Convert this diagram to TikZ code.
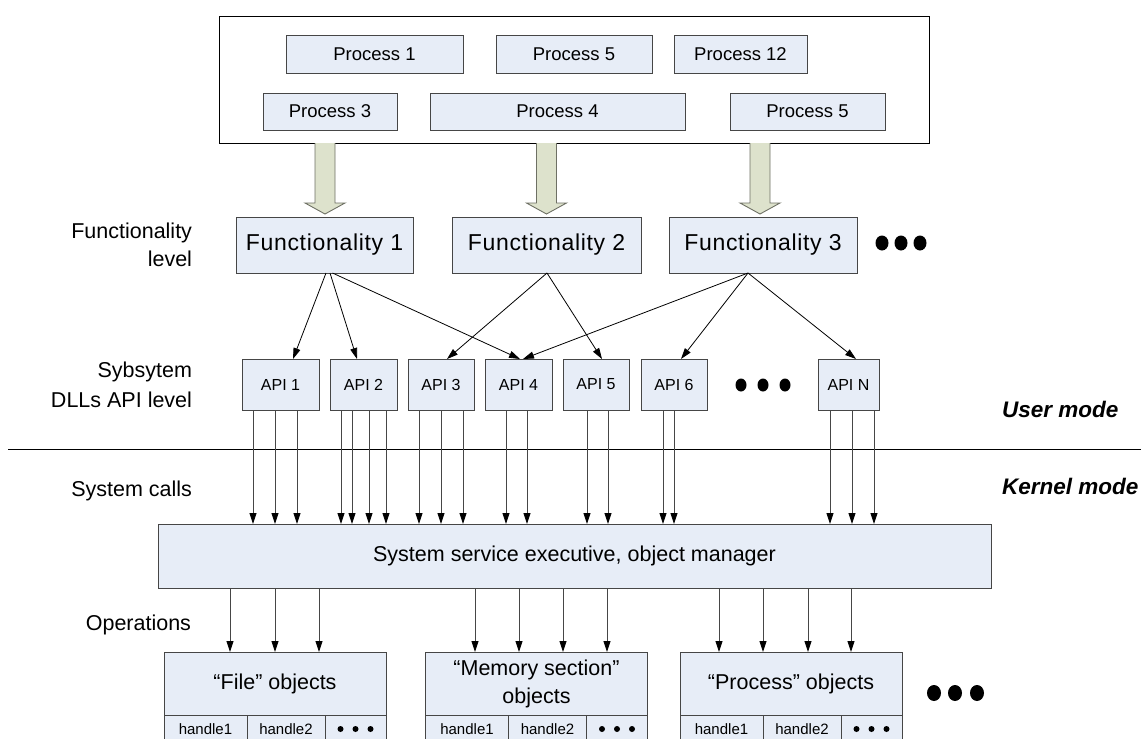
\documentclass[tikz,border=0pt]{standalone}
\usepackage{fontspec}
\setmainfont{Liberation Sans}
\usetikzlibrary{arrows.meta,calc}

\definecolor{boxfill}{RGB}{231,237,247}
\definecolor{boxline}{RGB}{70,70,70}
\definecolor{fatfill}{RGB}{221,226,204}
\definecolor{fatline}{RGB}{110,112,100}
\definecolor{wireline}{RGB}{70,70,70}

\tikzset{
  every node/.style={inner sep=0pt, outer sep=0pt},
  blk/.style={draw=boxline, fill=boxfill, line width=0.9pt, rectangle},
  procbox/.style={blk, minimum height=38pt, font=\fontsize{18.5}{22}\selectfont},
  funcbox/.style={blk, minimum height=56pt, font=\fontsize{23}{27}\selectfont\addfontfeature{LetterSpace=3}},
  apibox/.style={blk, minimum height=51pt, font=\fontsize{16}{19}\selectfont},
  sysbox/.style={blk, font=\fontsize{21.5}{26}\selectfont},
  objbox/.style={blk, minimum width=222pt, minimum height=63pt, align=center, font=\fontsize{21.5}{28}\selectfont},
  hcell/.style={blk, minimum height=28pt, anchor=north west, font=\fontsize{15}{18}\selectfont},
  lbl/.style={anchor=base east, font=\fontsize{21.5}{26}\selectfont},
  modelbl/.style={anchor=base west, font=\fontsize{22.5}{26}\selectfont\bfseries\itshape},
  tip/.style={-{Triangle[length=11pt,width=7pt,color=black]}},
  link/.style={tip, draw=black, line width=0.8pt},
  call/.style={tip, draw=wireline, line width=0.9pt},
  fat/.style={draw=fatline, fill=fatfill, line width=0.9pt, line join=miter},
}

% wide hollow arrow from the process area down to a functionality box
\newcommand{\fatdown}[2]{%
  \path (#1.north |- top.south) ++(#2,0) coordinate (fa);
  \path (#1.north) ++(#2,-3) coordinate (fb);
  \draw[fat] ($(fa)+(-10,0)$) -- ($(fb)+(-10,-11)$) -- ($(fb)+(-20,-11)$) -- (fb)
    -- ($(fb)+(20,-11)$) -- ($(fb)+(10,-11)$) -- ($(fa)+(10,0)$);
}

% kernel object box with its handle table
\newcommand{\objgroup}[3]{%
  \node[objbox] (#1) at (#2,683.5) {#3};
  \node[hcell, minimum width=83pt] (#1-h1) at (#1.south west) {handle1};
  \node[hcell, minimum width=78pt] (#1-h2) at (#1-h1.north east) {handle2};
  \node[hcell, minimum width=61pt] (#1-h3) at (#1-h2.north east) {};
  \foreach \k in {-15,0,15} \fill ($(#1-h3.center)+(\k,0)$) circle (3pt);
}

\begin{document}
\begin{tikzpicture}[x=1pt, y=-1pt]
\useasboundingbox (0,0) rectangle (1141,739);
\clip (0,0) rectangle (1141,739);

% process area
\node[draw=black, line width=0.9pt, minimum width=710pt, minimum height=127pt] (top) at (574,79.5) {};
\node[procbox, minimum width=177pt] (p1)  at (374.5,54) {Process 1};
\node[procbox, minimum width=156pt] (p5a) at (574,54)   {Process 5};
\node[procbox, minimum width=133pt] (p12) at (740.5,54) {Process 12};
\node[procbox, minimum width=134pt, minimum height=37pt] (p3)  at (330,111.5)   {Process 3};
\node[procbox, minimum width=255pt, minimum height=37pt] (p4)  at (557.5,111.5) {Process 4};
\node[procbox, minimum width=155pt, minimum height=37pt] (p5b) at (807.5,111.5) {Process 5};

% functionality level
\node[funcbox, minimum width=177pt] (f1) at (324.5,245) {Functionality 1};
\node[funcbox, minimum width=189pt] (f2) at (546.5,245) {Functionality 2};
\node[funcbox, minimum width=188pt] (f3) at (763,245)   {Functionality 3};
\foreach \x in {882,901,920} \fill (\x,243) ellipse [x radius=6.5pt, y radius=7.5pt];

\fatdown{f1}{0.5}
\fatdown{f2}{0}
\fatdown{f3}{-3}

% subsystem DLL API level
\node[apibox, minimum width=77pt] (a1) at (280.5,384.5) {API 1};
\node[apibox, minimum width=67pt] (a2) at (363.5,384.5) {API 2};
\node[apibox, minimum width=66pt] (a3) at (441,384.5)   {API 3};
\node[apibox, minimum width=67pt] (a4) at (518.5,384.5) {API 4};
\node[apibox, minimum width=66pt] (a5) at (596,384.5)   {API 5};
\node[apibox, minimum width=66pt] (a6) at (674,384.5)   {API 6};
\node[apibox, minimum width=61pt] (aN) at (848.5,384.5) {API N};
\foreach \x in {741,763,785} \fill (\x,385) ellipse [x radius=5.5pt, y radius=6.5pt];

\draw[link] ($(f1.south)+(1.5,0)$) -- ($(a1.north)+(12.5,0)$);
\draw[link] ($(f1.south)+(5.5,0)$) -- ($(a2.north)+(-6.5,0)$);
\draw[link] ($(f1.south)+(8,0)$)   -- ($(a4.north)+(1.5,0)$);
\draw[link] ($(f2.south)+(0.5,0)$) -- ($(a3.north)+(6,0)$);
\draw[link] ($(f2.south)+(0.5,0)$) -- ($(a5.north)+(6,0)$);
\draw[link] ($(f3.south)+(-15,0)$) -- ($(a4.north)+(4.5,0)$);
\draw[link] ($(f3.south)+(-15,0)$) -- ($(a6.north)+(7,0)$);
\draw[link] ($(f3.south)+(-15,0)$) -- ($(aN.north)+(7.5,0)$);

% user / kernel boundary
\coordinate (sepL) at (8,449);
\coordinate (sepR) at (1141,449);
\draw[black, line width=0.9pt] (sepL) -- (sepR);

% executive
\node[sysbox, minimum width=833pt, minimum height=64pt] (sys) at (574.5,556) {System service executive, object manager};

\foreach \n/\d in {a1/-27.5, a1/-5.5, a1/16.5, a2/-22.5, a2/-11.5, a2/5.5, a2/22.5,
                   a3/-22, a3/0, a3/22, a4/-12.5, a4/8.5, a5/-9, a5/12, a6/-11, a6/0,
                   aN/-18.5, aN/3.5, aN/25.5}
  { \path (\n.south) ++(\d,0) coordinate (c); \draw[call] (c) -- (c |- sys.north); }

% kernel objects
\objgroup{fo}{275}{“File” objects}
\objgroup{mo}{536.5}{“Memory section”\\objects}
\objgroup{po}{791}{“Process” objects}
\foreach \x in {934,955,977} \fill (\x,693) ellipse [x radius=7pt, y radius=8pt];

\foreach \n/\d in {fo/-45, fo/0, fo/44, mo/-61.5, mo/-17.5, mo/26.5, mo/70.5,
                   po/-72, po/-28, po/17, po/60}
  { \path (\n.north) ++(\d,0) coordinate (c); \draw[call] (c |- sys.south) -- (c); }

% level labels
\node[lbl] (lfunc1) at (192,238) {Functionality};
\node[lbl] (lfunc2) at (192,266) {level};
\node[lbl] (lsub1)  at (192,377) {Sybsytem};
\node[lbl] (lsub2)  at (192,407) {DLLs API level};
\node[lbl] (lcalls) at (192,496) {System calls};
\node[lbl] (lops)   at (191,630) {Operations};
\node[modelbl] (luser)   at (1002,417) {User mode};
\node[modelbl] (lkernel) at (1002,494) {Kernel mode};
\end{tikzpicture}
\end{document}
